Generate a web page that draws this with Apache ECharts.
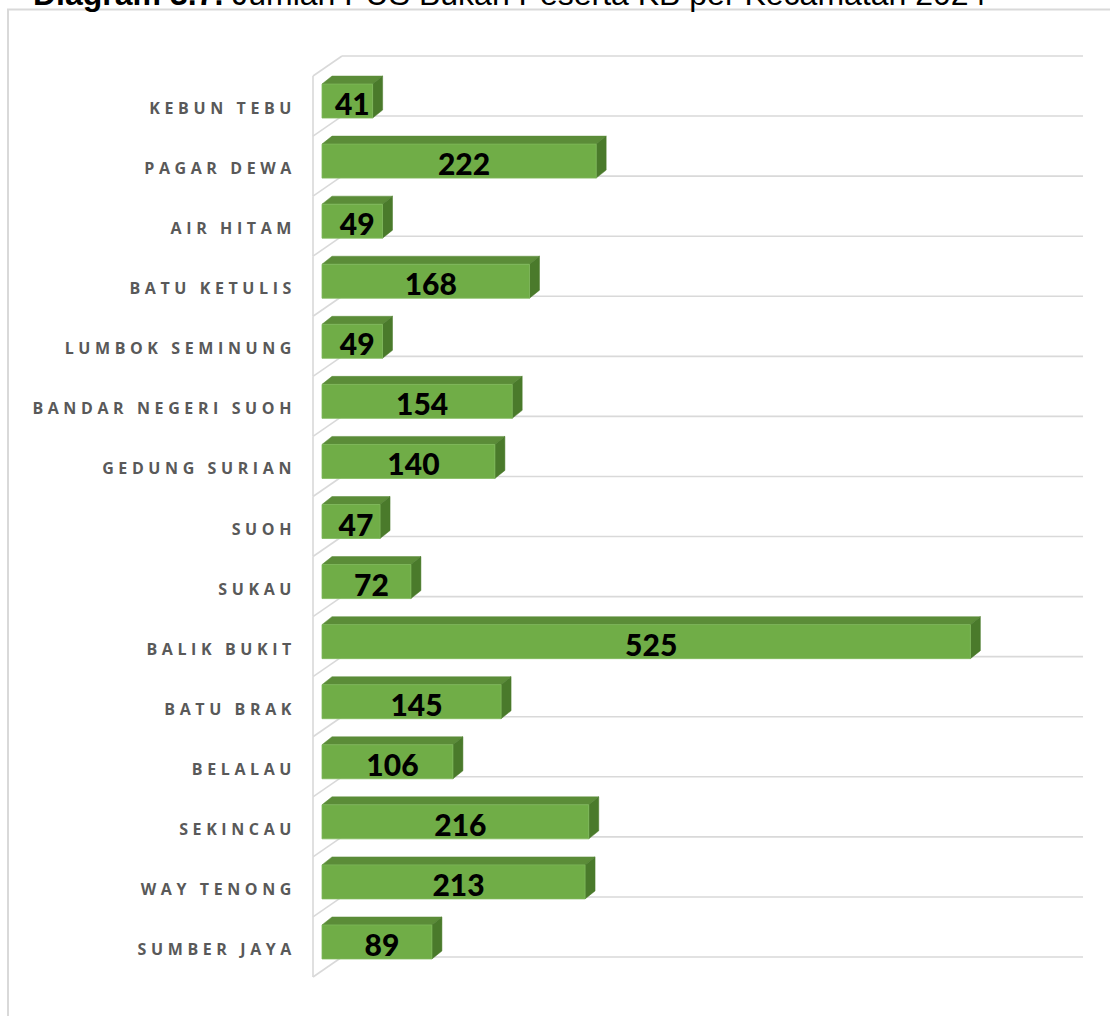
<!DOCTYPE html>
<html><head><meta charset="utf-8">
<script src="https://cdn.jsdelivr.net/npm/echarts@6/dist/echarts.min.js"></script>
<style>
html,body{margin:0;padding:0;background:#fff;overflow:hidden;}
#c{width:1110px;height:1016px;}
#c text[style*="Open Sans"]{letter-spacing:4.6px;}
</style></head><body><div id="c"></div>
<script>
const titleBold = 'Diagram 3.7.';
const titleRest = 'Jumlah PUS Bukan Peserta KB per Kecamatan 2024';
const categories = ['KEBUN TEBU','PAGAR DEWA','AIR HITAM','BATU KETULIS','LUMBOK SEMINUNG','BANDAR NEGERI SUOH','GEDUNG SURIAN','SUOH','SUKAU','BALIK BUKIT','BATU BRAK','BELALAU','SEKINCAU','WAY TENONG','SUMBER JAYA'];
const values = [41,222,49,168,49,154,140,47,72,525,145,106,216,213,89];
const axisMax = 600;

const DX = 10, DY = 8, BAR_H = 34;
const WALL_X = 20, WALL_Y = 15, FRONT_X = 9, FRONT_Y = 5;
const GRID_COLOR = '#d9d9d9';

const chart = echarts.init(document.getElementById('c'), null, {renderer: 'svg'});

const boundaries = [];
for (let i = 0; i <= categories.length; i++) boundaries.push([i]);

function renderWall(params, api) {
  const i = api.value(0);
  const band = api.size([0, 1])[1];
  const c0 = api.coord([0, 0]);
  const xR = api.coord([axisMax, 0])[0];
  const b = c0[1] - band / 2 + i * band;
  const xl = c0[0] - FRONT_X;
  const xb = c0[0] + WALL_X;
  const ls = {stroke: GRID_COLOR, lineWidth: 1.6};
  const children = [
    {type: 'line', shape: {x1: xb, y1: b - WALL_Y, x2: xR + WALL_X, y2: b - WALL_Y}, style: ls},
    {type: 'line', shape: {x1: xl, y1: b + FRONT_Y, x2: xb, y2: b - WALL_Y}, style: ls}
  ];
  if (i < categories.length) {
    children.push({type: 'line', shape: {x1: xl, y1: b + FRONT_Y, x2: xl, y2: b + band + FRONT_Y}, style: ls});
  }
  return {type: 'group', children};
}

function renderBar(params, api) {
  const v = api.value(0);
  const yi = api.value(1);
  const p0 = api.coord([0, yi]);
  const p1 = api.coord([v, yi]);
  const x0 = p0[0], x1 = p1[0];
  const top = p0[1] - BAR_H / 2, bot = p0[1] + BAR_H / 2;
  return {type: 'group', children: [
    {type: 'polygon', shape: {points: [[x0, top], [x1, top], [x1 + DX, top - DY], [x0 + DX, top - DY]]},
      style: {fill: '#5b8c38', stroke: '#5b8c38', lineWidth: 0.5}},
    {type: 'polygon', shape: {points: [[x1, top], [x1 + DX, top - DY], [x1 + DX, bot - DY], [x1, bot]]},
      style: {fill: '#4a7a2b', stroke: '#4a7a2b', lineWidth: 0.5}},
    {type: 'rect', shape: {x: x0, y: top, width: x1 - x0, height: BAR_H},
      style: {fill: '#70ad47', stroke: '#7fb95a', lineWidth: 0.8}},
    {type: 'text', style: {text: String(v), x: (x0 + x1 + DX) / 2, y: p0[1] + 2, align: 'center', verticalAlign: 'middle',
      font: '900 30px Lato', fill: '#000'}}
  ]};
}

chart.setOption({
  animation: false,
  grid: {left: 322, top: 71, width: 741, height: 901},
  xAxis: {type: 'value', min: 0, max: axisMax, show: false},
  yAxis: {
    type: 'category', data: categories, inverse: true,
    axisLine: {show: false}, axisTick: {show: false}, splitLine: {show: false},
    axisLabel: {fontFamily: 'Open Sans', fontWeight: 'bold', fontSize: 16, color: '#595959', margin: 26,
      verticalAlign: 'top', lineHeight: 14}
  },
  graphic: [
    {type: 'rect', shape: {x: 8, y: 9.5, width: 1200, height: 1100}, style: {fill: 'none', stroke: GRID_COLOR, lineWidth: 2}, silent: true},
    {type: 'text', x: 33, y: -22, style: {
      text: '{b|' + titleBold + '} {r|' + titleRest + '}',
      rich: {b: {font: 'bold 32px "Liberation Sans", Arial', fill: '#000'}, r: {font: '32px "Liberation Sans", Arial', fill: '#000'}},
      font: '32px "Liberation Sans", Arial'
    }}
  ],
  series: [
    {type: 'custom', data: boundaries, renderItem: renderWall, z: 1, silent: true},
    {type: 'custom', data: values.map((v, i) => [v, i]), encode: {x: 0, y: 1}, renderItem: renderBar, z: 2}
  ]
});
</script></body></html>
